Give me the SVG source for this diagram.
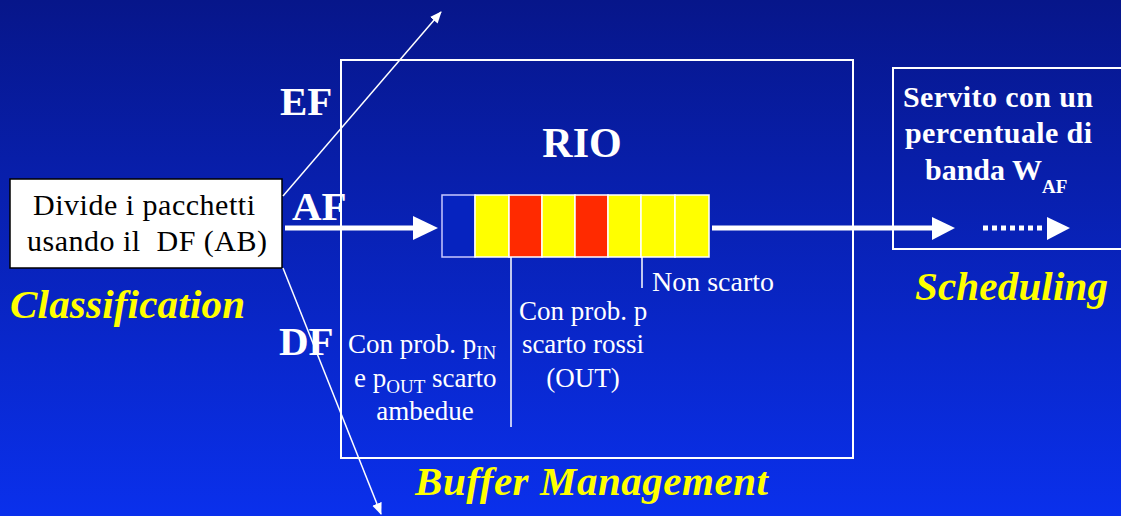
<svg xmlns="http://www.w3.org/2000/svg" width="1121" height="516" viewBox="0 0 1121 516">
<defs>
<linearGradient id="bg" x1="0" y1="0" x2="0" y2="1">
<stop offset="0" stop-color="#07168a"/>
<stop offset="1" stop-color="#0a30ec"/>
</linearGradient>
<marker id="thin" markerWidth="12" markerHeight="12" refX="11" refY="6" orient="auto" markerUnits="userSpaceOnUse">
<path d="M0,1 L12,6 L0,11 Z" fill="#fff"/>
</marker>
</defs>
<style>
.w{fill:#fff}
.b{font-weight:bold}
.y{fill:#ffff00;font-weight:bold;font-style:italic}
.box{fill:none;stroke:#fff;stroke-width:2}
.ln{stroke:#fff;fill:none}
.cell{stroke:#fff;stroke-width:1.5}
</style>
<rect width="1121" height="516" fill="url(#bg)"/>

<g id="rio-box">
<rect class="box" x="341" y="60" width="512" height="398"/>
<text class="w b" font-family="Liberation Serif, serif" x="582" y="157" font-size="42" text-anchor="middle">RIO</text>
</g>

<g id="queue">
<rect x="442" y="195" width="33" height="62" fill="#0623bf" stroke="#c8c8ff" stroke-width="1.5"/>
<rect class="cell" x="475" y="195" width="34" height="62" fill="#ffff00"/>
<rect class="cell" x="509" y="195" width="33" height="62" fill="#ff2a00"/>
<rect class="cell" x="542" y="195" width="33" height="62" fill="#ffff00"/>
<rect class="cell" x="575" y="195" width="33" height="62" fill="#ff2a00"/>
<rect class="cell" x="608" y="195" width="33" height="62" fill="#ffff00"/>
<rect class="cell" x="641" y="195" width="34" height="62" fill="#ffff00"/>
<rect class="cell" x="675" y="195" width="34" height="62" fill="#ffff00"/>
</g>

<g id="classifier">
<rect x="10" y="179" width="272" height="89" fill="#fff" stroke="#000" stroke-width="1.5"/>
<text x="33" y="215" font-size="30" textLength="222" font-family="Liberation Serif, serif" fill="#000">Divide i pacchetti</text>
<text x="27" y="251" font-size="30" textLength="240" font-family="Liberation Serif, serif" fill="#000" xml:space="preserve">usando il  DF (AB)</text>
</g>

<g id="sched-box">
<rect class="box" x="893" y="68" width="240" height="181"/>
<text class="w b" font-family="Liberation Serif, serif" x="903" y="107" font-size="30" textLength="190">Servito con un</text>
<text class="w b" font-family="Liberation Serif, serif" x="905" y="143" font-size="30" textLength="187">percentuale di</text>
<text class="w b" font-family="Liberation Serif, serif" x="925" y="180" font-size="30">banda W<tspan font-size="19" dy="13">AF</tspan></text>
</g>

<g id="connectors">
<line class="ln" x1="283" y1="196" x2="441" y2="12" stroke-width="1.5" marker-end="url(#thin)"/>
<line class="ln" x1="283" y1="268" x2="381" y2="514" stroke-width="1.5" marker-end="url(#thin)"/>
<line class="ln" x1="285" y1="228" x2="415" y2="228" stroke-width="5"/>
<path d="M413,216 L438,228 L413,240 Z" fill="#fff"/>
<line class="ln" x1="712" y1="228" x2="934" y2="228" stroke-width="5"/>
<path d="M932,217 L955,228 L932,240 Z" fill="#fff"/>
<line class="ln" x1="983" y1="228" x2="1045" y2="228" stroke-width="5" stroke-dasharray="5,4"/>
<path d="M1047,217 L1070,228 L1047,240 Z" fill="#fff"/>
<line class="ln" x1="511" y1="257" x2="511" y2="427" stroke-width="1.5"/>
<line class="ln" x1="642" y1="257" x2="642" y2="288" stroke-width="1.5"/>
</g>

<g id="labels">
<text class="w b" font-family="Liberation Serif, serif" x="280" y="115" font-size="41">EF</text>
<text class="w b" font-family="Liberation Serif, serif" x="292" y="220" font-size="41">AF</text>
<text class="w b" font-family="Liberation Serif, serif" x="279" y="355" font-size="41">DF</text>
<text class="w" font-family="Liberation Serif, serif" x="652" y="291" font-size="28">Non scarto</text>
<text class="w" font-family="Liberation Serif, serif" x="583" y="320" font-size="27" text-anchor="middle">Con prob. p</text>
<text class="w" font-family="Liberation Serif, serif" x="583" y="353" font-size="27" text-anchor="middle">scarto rossi</text>
<text class="w" font-family="Liberation Serif, serif" x="583" y="387" font-size="27" text-anchor="middle">(OUT)</text>
<text class="w" font-family="Liberation Serif, serif" x="348" y="353" font-size="27">Con prob. p<tspan font-size="19" dy="6">IN</tspan></text>
<text class="w" font-family="Liberation Serif, serif" x="354" y="387" font-size="27">e p<tspan font-size="19" dy="6">OUT</tspan><tspan dy="-6"> scarto</tspan></text>
<text class="w" font-family="Liberation Serif, serif" x="425" y="420" font-size="27" text-anchor="middle">ambedue</text>
<text class="y" font-family="Liberation Serif, serif" x="10" y="318" font-size="41" textLength="235">Classification</text>
<text class="y" font-family="Liberation Serif, serif" x="915" y="300" font-size="41" textLength="193">Scheduling</text>
<text class="y" font-family="Liberation Serif, serif" x="415" y="495" font-size="41" textLength="353">Buffer Management</text>
</g>
</svg>
